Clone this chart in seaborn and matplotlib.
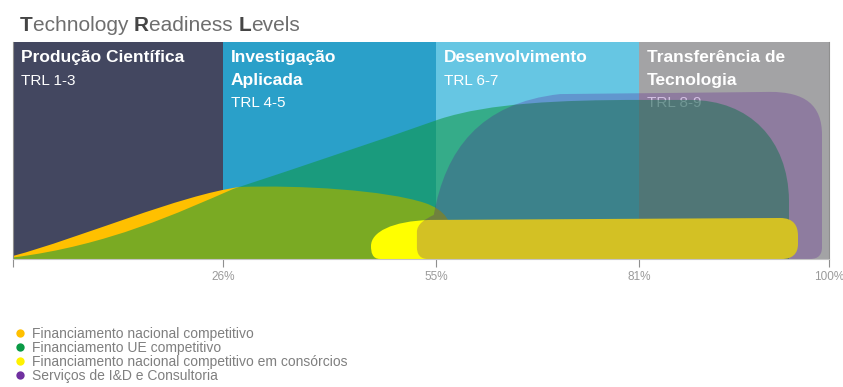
import numpy as np
import pandas as pd
import matplotlib
matplotlib.use("Agg")
import matplotlib.pyplot as plt
from matplotlib.path import Path
from matplotlib.patches import PathPatch
from matplotlib.lines import Line2D
import seaborn as sns

# --- TRL stages -------------------------------------------------------------
stages = ["Produção Científica", "Investigação Aplicada",
          "Desenvolvimento", "Transferência de Tecnologia"]
stage_lines = [["Produção Científica"], ["Investigação", "Aplicada"],
               ["Desenvolvimento"], ["Transferência de", "Tecnologia"]]
stage_trl = ["TRL 1-3", "TRL 4-5", "TRL 6-7", "TRL 8-9"]
stage_edges = [0, 26, 55, 81, 100]          # cumulative % at stage limits
tick_labels = ["", "26%", "55%", "81%", "100%"]
stage_colors = ["#434760", "#2aa0c9", "#66c6e3", "#a3a3a5"]

# --- funding instruments: outlines in (% TRL, level) -------------------------
orange_outline = [("M", (0, 0)), ("L", (0, 1.4)),
                  ("C", (8.3, 9.7), (20.7, 29.5), (28.3, 33.2)),
                  ("C", (36.5, 34.1), (48.1, 31.8), (53.5, 25.8)),
                  ("C", (56.2, 22.6), (57.1, 17.1), (57.1, 8.8)),
                  ("L", (57.1, 0))]
green_outline = [("M", (0, 0)), ("L", (0, 0.7)),
                 ("C", (11.8, 6.2), (20.7, 21.7), (27.4, 32.3)),
                 ("C", (36.5, 42.4), (47.4, 54.8), (55.5, 64.5)),
                 ("C", (61.9, 71.9), (70.9, 73.3), (81.1, 73.3)),
                 ("L", (86.1, 73.3)),
                 ("C", (92.1, 73.3), (95.9, 54.8), (96.0, 27.2)),
                 ("L", (96.0, 0))]
yellow_outline = [("M", (47.4, 0)),
                  ("C", (46.3, 0), (46.15, 3.2), (46.15, 6.0)),
                  ("C", (46.15, 12.4), (49.0, 17.5), (54.2, 18.0)),
                  ("L", (95.1, 18.9)),
                  ("C", (96.5, 18.9), (96.9, 15.2), (96.9, 10.6)),
                  ("L", (96.9, 6.9)),
                  ("C", (96.9, 2.3), (96.3, 0), (95.3, 0))]
purple_outline = [("M", (53.9, 0)),
                  ("C", (52.8, 0), (52.4, 2.3), (52.4, 5.5)),
                  ("L", (52.4, 12.4)),
                  ("C", (52.4, 16.1), (53.5, 18.4), (54.7, 20.3)),
                  ("C", (56.2, 50.2), (60.6, 71.9), (70.9, 76.0)),
                  ("L", (94.1, 77.0)),
                  ("C", (97.6, 77.0), (99.3, 71.0), (99.3, 57.1)),
                  ("L", (99.3, 5.5)),
                  ("C", (99.3, 1.8), (98.9, 0), (98.1, 0))]

legend_labels = ["Financiamento nacional competitivo",
                 "Financiamento UE competitivo",
                 "Financiamento nacional competitivo em consórcios",
                 "Serviços de I&D e Consultoria"]
legend_colors = ["#ffc000", "#0a9a45", "#fff200", "#7030a0"]

# --- styling ----------------------------------------------------------------
sns.set_theme(style="white")
plt.rcParams["font.family"] = ["Liberation Sans", "DejaVu Sans"]

W, H = 843, 387
fig = plt.figure(figsize=(W / 100, H / 100), dpi=100)
ax = fig.add_axes([13 / W, 1 - 259 / H, 816 / W, 217 / H])

# the four stages get their own slot widths on the axis
slot_px = np.array([210, 213, 203, 190], dtype=float)
slot = np.concatenate([[0], np.cumsum(slot_px)]) / slot_px.sum()


def fwd(x):
    return np.interp(x, stage_edges, slot)


def inv(u):
    return np.interp(u, slot, stage_edges)


# stage backgrounds as weighted histogram bars spanning each stage
bands = pd.DataFrame({
    "stage": stages,
    "mid": [(a + b) / 2 for a, b in zip(stage_edges[:-1], stage_edges[1:])],
    "level": [100] * len(stages),
})
sns.histplot(data=bands, x="mid", weights="level", bins=stage_edges,
             hue="stage", palette=dict(zip(stages, stage_colors)),
             multiple="layer", alpha=1, linewidth=0, legend=False, ax=ax)


def outline_path(cmds):
    verts, codes = [], []
    for cmd in cmds:
        kind, pts = cmd[0], cmd[1:]
        if kind == "M":
            verts.append(pts[0]); codes.append(Path.MOVETO)
        elif kind == "L":
            verts.append(pts[0]); codes.append(Path.LINETO)
        else:
            verts.extend(pts); codes.extend([Path.CURVE4] * 3)
    verts.append(cmds[0][1]); codes.append(Path.CLOSEPOLY)
    return Path(verts, codes)


shapes = [
    (orange_outline, "#ffc000", 1.0, 2),
    (green_outline, (13 / 255, 152 / 255, 64 / 255), 0.55, 3),
    (yellow_outline, "#ffff00", 1.0, 4),
    (purple_outline, (83 / 255, 8 / 255, 145 / 255), 0.25, 5),
]
for cmds, color, alpha, z in shapes:
    ax.add_patch(PathPatch(outline_path(cmds), facecolor=color, alpha=alpha,
                           edgecolor="none", zorder=z))

# stage headings
for edge, lines, trl in zip(stage_edges[:-1], stage_lines, stage_trl):
    for i, line in enumerate(lines):
        ax.annotate(line, xy=(edge, 1), xycoords=("data", "axes fraction"),
                    xytext=(8, -20 - 22.5 * i), textcoords="offset pixels",
                    color="white", fontsize=12.5, fontweight="bold",
                    ha="left", va="baseline", zorder=1.5)
    ax.annotate(trl, xy=(edge, 1), xycoords=("data", "axes fraction"),
                xytext=(8, -20 - 22.5 * len(lines)), textcoords="offset pixels",
                color="white", fontsize=11, ha="left", va="baseline",
                zorder=1.5)

ax.set_xscale("function", functions=(fwd, inv))
ax.set_xlim(0, 100)
ax.set_ylim(0, 100)
ax.set_xlabel("")
ax.set_ylabel("")
ax.set_xticks(stage_edges)
ax.set_xticklabels(tick_labels)
ax.tick_params(axis="x", bottom=True, length=6, width=0.8, color="#8f8f8f",
               labelsize=8.5, labelcolor="#9a9a9a", pad=3)
ax.tick_params(axis="y", left=False, labelleft=False)
ax.spines["top"].set_visible(False)
for side, col in [("bottom", "#c4c4c4"), ("left", "#8f8f8f"), ("right", "#8f8f8f")]:
    ax.spines[side].set_color(col)
    ax.spines[side].set_linewidth(0.8)
    ax.spines[side].set_zorder(10)

# title with emphasised initials
title_parts = [("T", True), ("echnology ", False), ("R", True),
               ("eadiness ", False), ("L", True), ("evels", False)]
prev = None
for text, strong in title_parts:
    kw = dict(fontsize=15, color="#454545" if strong else "#6e6e6e",
              fontweight="bold" if strong else "normal")
    if prev is None:
        prev = fig.text(20 / W, 1 - 31 / H, text, ha="left", va="baseline", **kw)
    else:
        prev = ax.annotate(text, xy=(1, 0), xycoords=prev, ha="left",
                           va="bottom", annotation_clip=False, **kw)

# legend
handles = [Line2D([], [], marker="o", ls="none", markersize=6,
                  markerfacecolor=c, markeredgewidth=0) for c in legend_colors]
fig.legend(handles, legend_labels, loc="upper left",
           bbox_to_anchor=(14 / W, 1 - 327 / H), frameon=False, fontsize=10,
           labelspacing=0.0, handlelength=0.8, handletextpad=0.5,
           borderpad=0, borderaxespad=0, labelcolor="#7f7f7f")

fig.savefig("out.png", dpi=100)
